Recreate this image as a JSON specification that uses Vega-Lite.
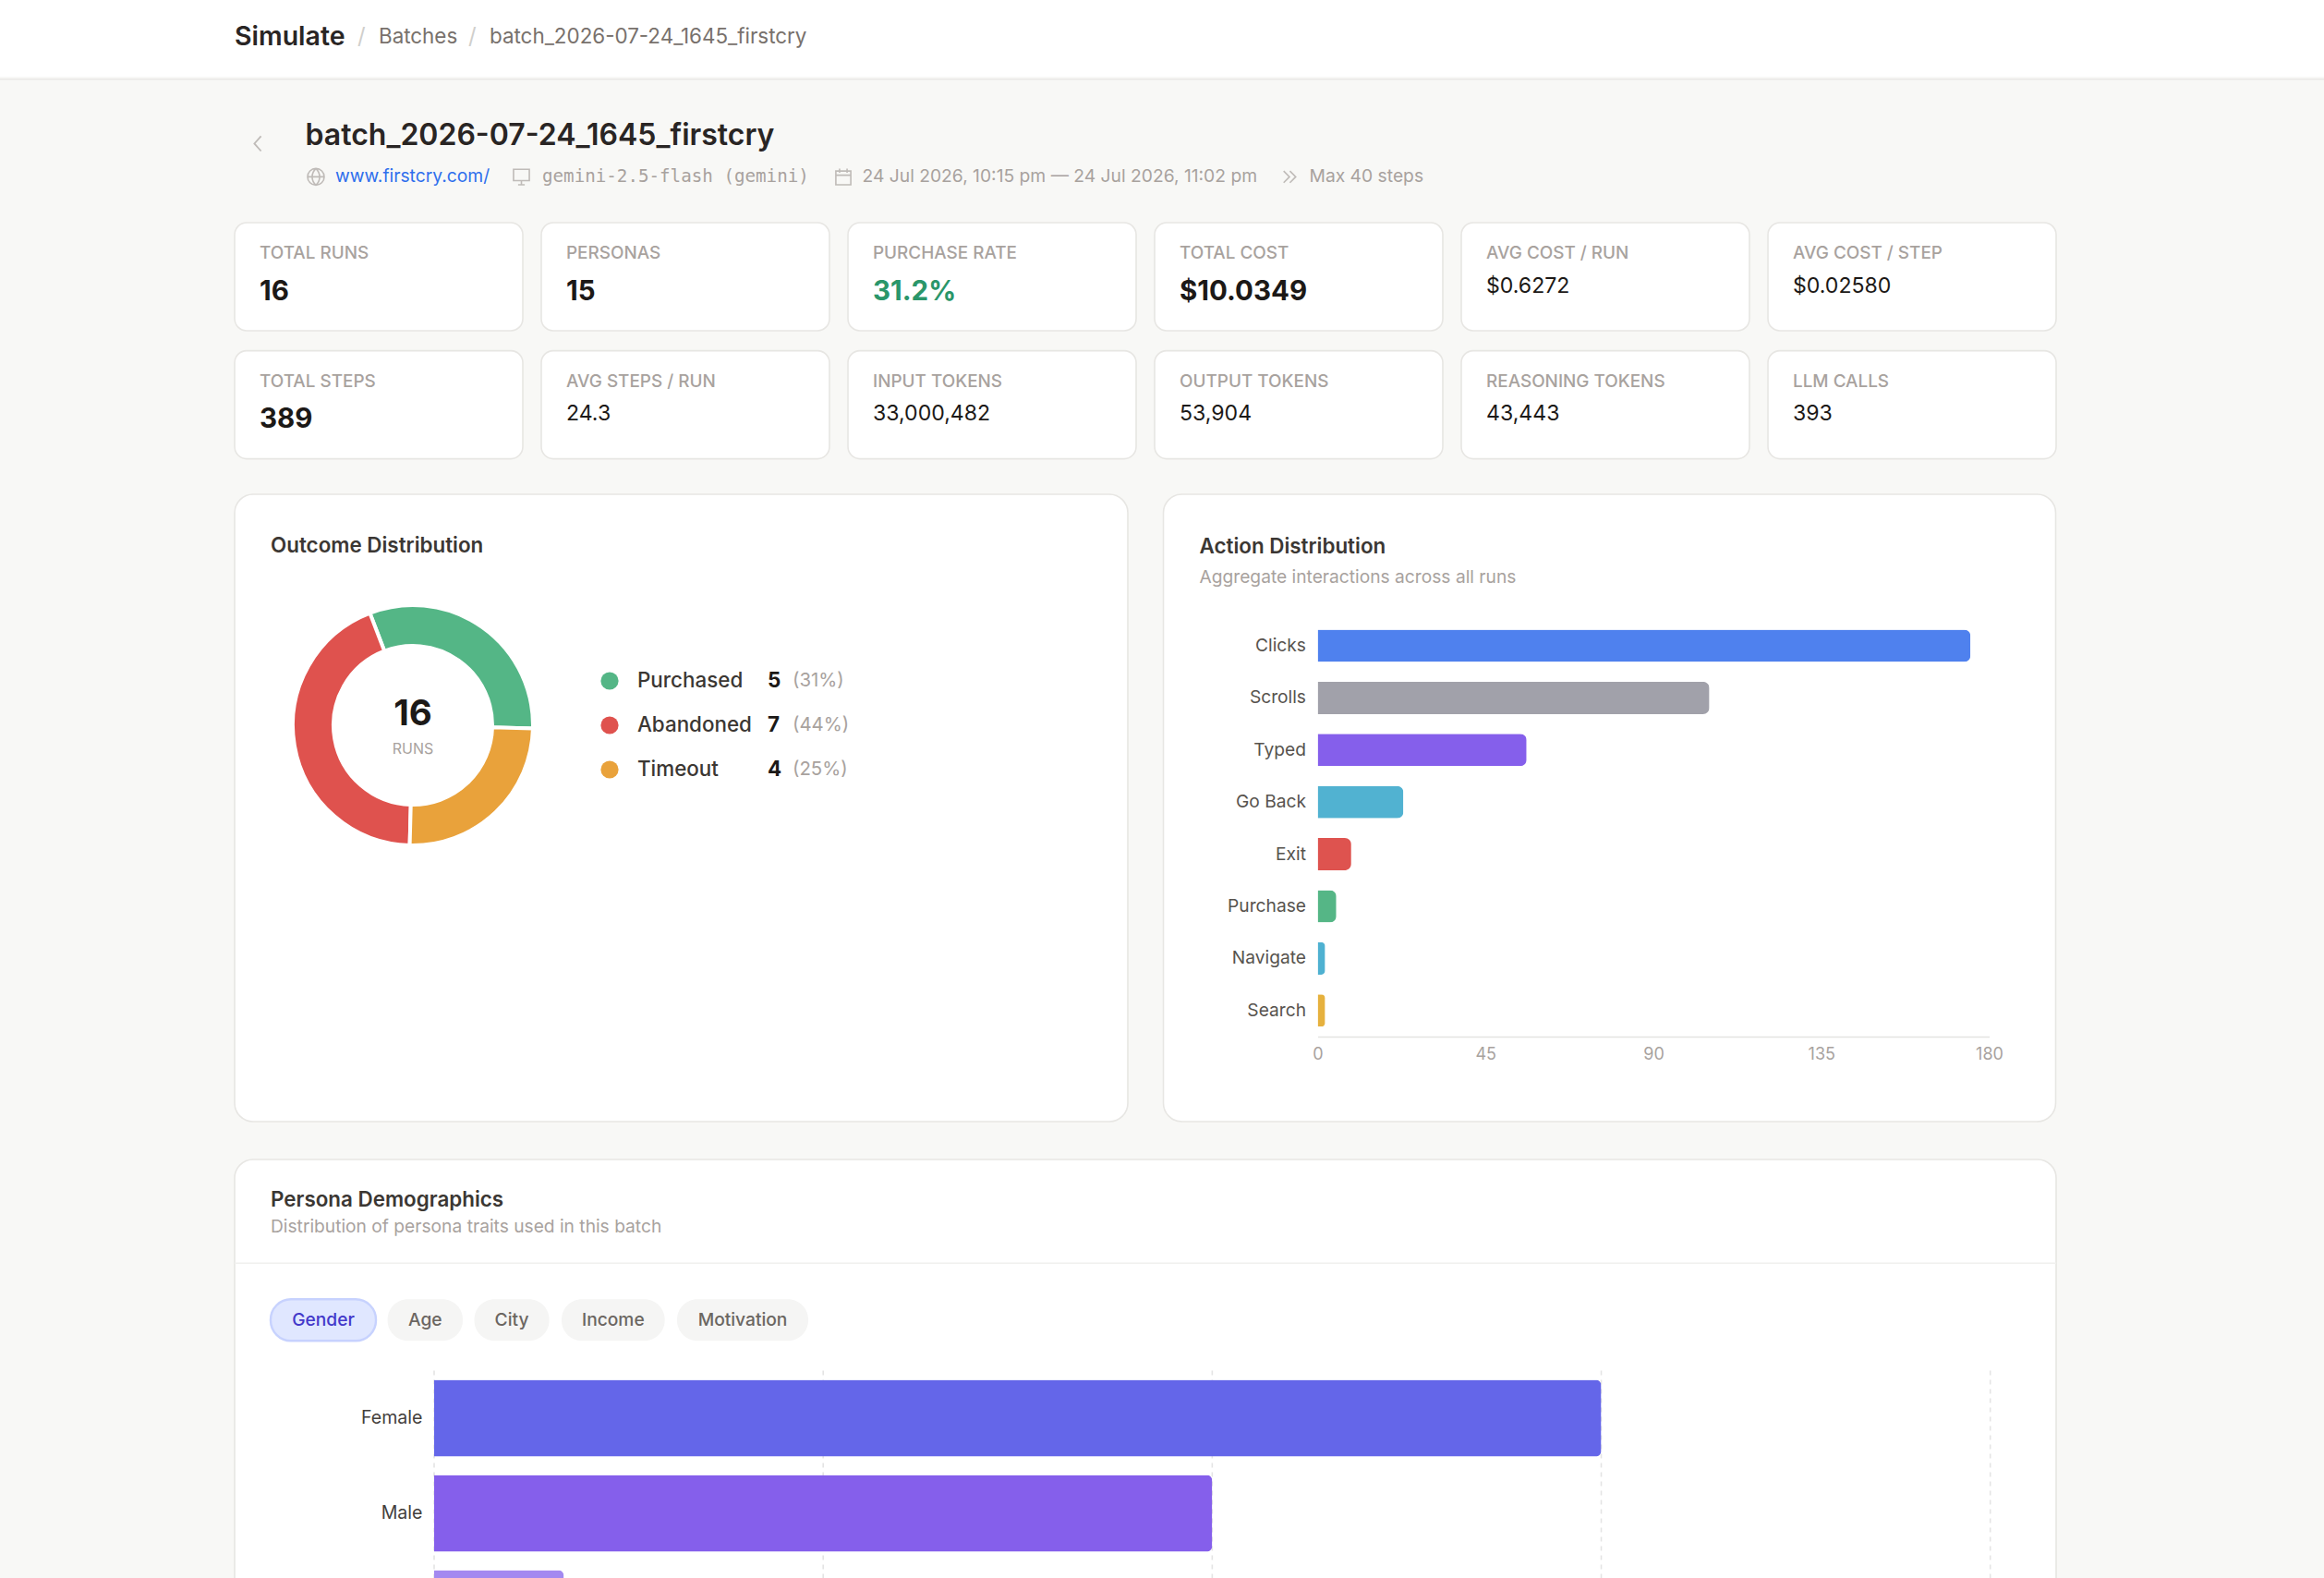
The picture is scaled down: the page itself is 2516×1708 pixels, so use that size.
{
  "$schema": "https://vega.github.io/schema/vega-lite/v6.json",
  "background": "#f8f8f6",
  "padding": 0,
  "config": {
    "font": "Inter",
    "view": {"stroke": null},
    "text": {"font": "Inter"},
    "title": {"font": "Inter", "subtitleFont": "Inter"},
    "axis": {"labelFont": "Inter"}
  },
  "spacing": 0,
  "resolve": {"scale": {"color": "independent", "fill": "independent", "stroke": "independent"}},
  "vconcat": [
    {
      "width": 2516,
      "height": 83,
      "view": {"fill": "#ffffff"},
      "data": {
        "values": [
          {"slot": 0, "crumb": "Simulate", "kind": "brand"},
          {"slot": 1, "crumb": "/", "kind": "sep"},
          {"slot": 2, "crumb": "Batches", "kind": "crumb"},
          {"slot": 3, "crumb": "/", "kind": "sep"},
          {"slot": 4, "crumb": "batch_2026-07-24_1645_firstcry", "kind": "crumb"}
        ]
      },
      "encoding": {
        "x": {"field": "slot", "type": "quantitative", "axis": null, "scale": {"domain": [0, 1, 2, 3, 4], "range": [254, 387, 410, 507, 530]}},
        "y": {"datum": 0, "type": "quantitative", "axis": null, "scale": {"domain": [0, 1], "range": [39.5, 40.5]}},
        "text": {"field": "crumb"}
      },
      "layer": [
        {"transform": [{"filter": "datum.kind === 'brand'"}], "mark": {"type": "text", "align": "left", "fontSize": 28.5, "fontWeight": 600, "color": "#292524"}},
        {"transform": [{"filter": "datum.kind === 'sep'"}], "mark": {"type": "text", "align": "left", "fontSize": 24, "color": "#d0cfcc"}},
        {"transform": [{"filter": "datum.kind === 'crumb'"}], "mark": {"type": "text", "align": "left", "fontSize": 22.4, "color": "#78716c"}}
      ]
    },
    {
      "width": 2516,
      "height": 1.6,
      "view": {"fill": "#e9e8e5"},
      "data": {"values": [{"part": "rule"}]},
      "mark": {"type": "point", "opacity": 0}
    },
    {
      "spacing": 0,
      "resolve": {"scale": {"color": "independent", "fill": "independent", "stroke": "independent"}},
      "hconcat": [
        {
          "width": 252,
          "height": 10,
          "data": {"values": [{"part": "gutter"}]},
          "mark": {"type": "point", "opacity": 0}
        },
        {
          "spacing": 39,
          "resolve": {"scale": {"color": "independent", "fill": "independent", "stroke": "independent"}},
          "vconcat": [
            {
              "spacing": 36,
              "resolve": {"scale": {"color": "independent", "fill": "independent", "stroke": "independent"}},
              "vconcat": [
                {
                  "width": 1972,
                  "height": 113.2,
                  "data": {
                    "values": [
                      {"slot": 1, "line": 0, "item": "batch_2026-07-24_1645_firstcry", "kind": "title"},
                      {"slot": 3, "line": 1, "item": "www.firstcry.com/", "kind": "link"},
                      {"slot": 5, "line": 1, "item": "gemini-2.5-flash (gemini)", "kind": "model"},
                      {"slot": 7, "line": 1, "item": "24 Jul 2026, 10:15 pm — 24 Jul 2026, 11:02 pm", "kind": "meta"},
                      {"slot": 9, "line": 1, "item": "Max 40 steps", "kind": "meta"},
                      {"slot": 0, "line": 3, "item": "back", "kind": "back"},
                      {"slot": 2, "line": 2, "item": "globe", "kind": "globe"},
                      {"slot": 4, "line": 2, "item": "monitor", "kind": "monitor"},
                      {"slot": 6, "line": 2, "item": "calendar", "kind": "calendar"},
                      {"slot": 8, "line": 2, "item": "steps", "kind": "steps"}
                    ]
                  },
                  "encoding": {
                    "x": {"field": "slot", "type": "quantitative", "axis": null, "scale": {"domain": [0, 1, 2, 3, 4, 5, 6, 7, 8, 9], "range": [25, 76.5, 88, 109, 310.5, 333, 659, 679.5, 1142, 1163.5]}},
                    "y": {"field": "line", "type": "quantitative", "axis": null, "scale": {"domain": [0, 1, 2, 3], "range": [67.9, 108.4, 102.4, 66.4]}}
                  },
                  "layer": [
                    {"transform": [{"filter": "datum.kind === 'title'"}], "mark": {"type": "text", "align": "left", "baseline": "alphabetic", "fontSize": 32, "fontWeight": 600, "color": "#292524"}, "encoding": {"text": {"field": "item"}}},
                    {"transform": [{"filter": "datum.kind === 'link'"}], "mark": {"type": "text", "align": "left", "baseline": "alphabetic", "fontSize": 19.25, "color": "#2f6fed"}, "encoding": {"text": {"field": "item"}}},
                    {"transform": [{"filter": "datum.kind === 'model'"}], "mark": {"type": "text", "align": "left", "baseline": "alphabetic", "font": "DejaVu Sans Mono", "fontSize": 19.2, "color": "#a8a29e"}, "encoding": {"text": {"field": "item"}}},
                    {"transform": [{"filter": "datum.kind === 'meta'"}], "mark": {"type": "text", "align": "left", "baseline": "alphabetic", "fontSize": 19.25, "color": "#a8a29e"}, "encoding": {"text": {"field": "item"}}},
                    {"transform": [{"filter": "datum.kind === 'back'"}], "mark": {"type": "point", "filled": false, "size": 324, "stroke": "#a8a29e", "strokeWidth": 1.8, "shape": "M0.4,-0.9L-0.4,0L0.4,0.9"}},
                    {"transform": [{"filter": "datum.kind === 'globe'"}], "mark": {"type": "point", "filled": false, "size": 324, "stroke": "#a8a29e", "strokeWidth": 1.6, "shape": "M-1,0A1,1 0 1,1 1,0A1,1 0 1,1 -1,0M-1,0L1,0M0,-1C-0.6,-0.4 -0.6,0.4 0,1M0,-1C0.6,-0.4 0.6,0.4 0,1"}},
                    {"transform": [{"filter": "datum.kind === 'monitor'"}], "mark": {"type": "point", "filled": false, "size": 324, "stroke": "#a8a29e", "strokeWidth": 1.6, "shape": "M-0.95,-0.9H0.95V0.45H-0.95ZM-0.4,0.95H0.4M0,0.45V0.95"}},
                    {"transform": [{"filter": "datum.kind === 'calendar'"}], "mark": {"type": "point", "filled": false, "size": 324, "stroke": "#a8a29e", "strokeWidth": 1.6, "shape": "M-0.9,-0.7H0.9V0.95H-0.9ZM-0.9,-0.2H0.9M-0.45,-1V-0.5M0.45,-1V-0.5"}},
                    {"transform": [{"filter": "datum.kind === 'steps'"}], "mark": {"type": "point", "filled": false, "size": 324, "stroke": "#a8a29e", "strokeWidth": 1.6, "shape": "M-0.7,-0.7L0,0L-0.7,0.7M0.05,-0.7L0.75,0L0.05,0.7"}}
                  ]
                },
                {
                  "data": {
                    "values": [
                      {"metric": "TOTAL RUNS", "value": "16", "tier": "hero", "band": 0, "col": 0},
                      {"metric": "PERSONAS", "value": "15", "tier": "hero", "band": 0, "col": 1},
                      {"metric": "PURCHASE RATE", "value": "31.2%", "tier": "accent", "band": 0, "col": 2},
                      {"metric": "TOTAL COST", "value": "$10.0349", "tier": "hero", "band": 0, "col": 3},
                      {"metric": "AVG COST / RUN", "value": "$0.6272", "tier": "plain", "band": 0, "col": 4},
                      {"metric": "AVG COST / STEP", "value": "$0.02580", "tier": "plain", "band": 0, "col": 5},
                      {"metric": "TOTAL STEPS", "value": "389", "tier": "hero", "band": 1, "col": 0},
                      {"metric": "AVG STEPS / RUN", "value": "24.3", "tier": "plain", "band": 1, "col": 1},
                      {"metric": "INPUT TOKENS", "value": "33,000,482", "tier": "plain", "band": 1, "col": 2},
                      {"metric": "OUTPUT TOKENS", "value": "53,904", "tier": "plain", "band": 1, "col": 3},
                      {"metric": "REASONING TOKENS", "value": "43,443", "tier": "plain", "band": 1, "col": 4},
                      {"metric": "LLM CALLS", "value": "393", "tier": "plain", "band": 1, "col": 5}
                    ]
                  },
                  "facet": {
                    "row": {"field": "band", "type": "ordinal", "header": null},
                    "column": {"field": "col", "type": "ordinal", "header": null}
                  },
                  "bounds": "flush",
                  "spacing": {"row": 21.6, "column": 20},
                  "spec": {
                    "width": 312,
                    "height": 117,
                    "view": {"fill": "#ffffff", "stroke": "#e7e6e3", "strokeWidth": 1.6, "cornerRadius": 13},
                    "encoding": {
                      "x": {"datum": 0, "type": "quantitative", "axis": null, "scale": {"domain": [0, 1], "range": [27, 28]}}
                    },
                    "layer": [
                      {
                        "mark": {"type": "text", "align": "left", "baseline": "middle", "fontSize": 18.9, "fontWeight": 500, "color": "#a8a29e"},
                        "encoding": {
                          "y": {"datum": 0, "type": "quantitative", "axis": null, "scale": {"domain": [0, 1, 2], "range": [33, 74.5, 68.5]}},
                          "text": {"field": "metric"}
                        }
                      },
                      {
                        "transform": [{"filter": "datum.tier !== 'plain'"}],
                        "mark": {"type": "text", "align": "left", "baseline": "middle", "fontSize": 29.5, "fontWeight": 700},
                        "encoding": {
                          "y": {"datum": 1, "type": "quantitative", "axis": null, "scale": {"domain": [0, 1, 2], "range": [33, 74.5, 68.5]}},
                          "text": {"field": "value"},
                          "color": {"field": "tier", "type": "nominal", "legend": null, "scale": {"domain": ["hero", "accent", "plain"], "range": ["#1c1917", "#2a966a", "#1c1917"]}}
                        }
                      },
                      {
                        "transform": [{"filter": "datum.tier === 'plain'"}],
                        "mark": {"type": "text", "align": "left", "baseline": "middle", "fontSize": 23.1, "color": "#1c1917"},
                        "encoding": {
                          "y": {"datum": 2, "type": "quantitative", "axis": null, "scale": {"domain": [0, 1, 2], "range": [33, 74.5, 68.5]}},
                          "text": {"field": "value"}
                        }
                      }
                    ]
                  }
                },
                {
                  "spacing": 36.5,
                  "resolve": {"scale": {"color": "independent"}},
                  "hconcat": [
                    {
                      "width": 967,
                      "height": 679,
                      "view": {"fill": "#ffffff", "stroke": "#e7e6e3", "strokeWidth": 1.6, "cornerRadius": 20},
                      "title": {"text": "Outcome Distribution", "anchor": "start", "frame": "group", "dx": 39, "dy": 71, "fontSize": 22.4, "fontWeight": 600, "color": "#3b3733"},
                      "data": {
                        "values": [
                          {"outcome": "Purchased", "runs": 5, "share": "(31%)", "ring": 0},
                          {"outcome": "Abandoned", "runs": 7, "share": "(44%)", "ring": 2},
                          {"outcome": "Timeout", "runs": 4, "share": "(25%)", "ring": 1}
                        ]
                      },
                      "resolve": {"scale": {"x": "independent", "y": "independent", "theta": "independent"}},
                      "layer": [
                        {
                          "mark": {"type": "arc", "radius": 130, "radius2": 86, "stroke": "#ffffff", "strokeWidth": 4},
                          "encoding": {
                            "x": {"datum": "centre", "type": "nominal", "axis": null, "scale": {"type": "point", "range": [193, 193]}},
                            "y": {"datum": "centre", "type": "nominal", "axis": null, "scale": {"type": "point", "range": [250, 250]}},
                            "theta": {"field": "runs", "type": "quantitative", "stack": true, "scale": {"range": [-0.3665, 5.9167]}},
                            "order": {"field": "ring"},
                            "color": {"field": "outcome", "type": "nominal", "legend": null, "scale": {"domain": ["Purchased", "Abandoned", "Timeout"], "range": ["#54b686", "#df524e", "#e9a23b"]}}
                          }
                        },
                        {
                          "data": {"values": [{"total": "16", "row": 0}]},
                          "mark": {"type": "text", "align": "center", "baseline": "middle", "fontSize": 38.5, "fontWeight": 700, "color": "#1c1917"},
                          "encoding": {
                            "x": {"datum": 0, "type": "quantitative", "axis": null, "scale": {"domain": [0, 1], "range": [193, 194]}},
                            "y": {"field": "row", "type": "quantitative", "axis": null, "scale": {"domain": [0, 1], "range": [238, 276]}},
                            "text": {"field": "total"}
                          }
                        },
                        {
                          "data": {"values": [{"unit": "RUNS", "row": 1}]},
                          "mark": {"type": "text", "align": "center", "baseline": "middle", "fontSize": 16, "color": "#a8a29e"},
                          "encoding": {
                            "x": {"datum": 0, "type": "quantitative", "axis": null, "scale": {"domain": [0, 1], "range": [193, 194]}},
                            "y": {"field": "row", "type": "quantitative", "axis": null, "scale": {"domain": [0, 1], "range": [238, 276]}},
                            "text": {"field": "unit"}
                          }
                        },
                        {
                          "mark": {"type": "point", "filled": true, "size": 369, "opacity": 1},
                          "encoding": {
                            "x": {"datum": 0, "type": "quantitative", "axis": null, "scale": {"domain": [0, 1, 2, 3], "range": [406, 436, 577, 604]}},
                            "y": {"field": "outcome", "type": "nominal", "sort": null, "axis": null, "scale": {"type": "point", "padding": 0, "domain": ["Purchased", "Abandoned", "Timeout"], "range": [202, 298]}},
                            "color": {"field": "outcome", "type": "nominal", "legend": null, "scale": {"domain": ["Purchased", "Abandoned", "Timeout"], "range": ["#54b686", "#df524e", "#e9a23b"]}}
                          }
                        },
                        {
                          "mark": {"type": "text", "align": "left", "baseline": "middle", "fontSize": 22.4, "fontWeight": 500, "color": "#3b3733"},
                          "encoding": {
                            "x": {"datum": 1, "type": "quantitative", "axis": null, "scale": {"domain": [0, 1, 2, 3], "range": [406, 436, 577, 604]}},
                            "y": {"field": "outcome", "type": "nominal", "sort": null, "axis": null, "scale": {"type": "point", "padding": 0, "domain": ["Purchased", "Abandoned", "Timeout"], "range": [202, 298]}},
                            "text": {"field": "outcome"}
                          }
                        },
                        {
                          "mark": {"type": "text", "align": "left", "baseline": "middle", "fontSize": 22.4, "fontWeight": 700, "color": "#1c1917"},
                          "encoding": {
                            "x": {"datum": 2, "type": "quantitative", "axis": null, "scale": {"domain": [0, 1, 2, 3], "range": [406, 436, 577, 604]}},
                            "y": {"field": "outcome", "type": "nominal", "sort": null, "axis": null, "scale": {"type": "point", "padding": 0, "domain": ["Purchased", "Abandoned", "Timeout"], "range": [202, 298]}},
                            "text": {"field": "runs"}
                          }
                        },
                        {
                          "mark": {"type": "text", "align": "left", "baseline": "middle", "fontSize": 20.4, "color": "#a8a29e"},
                          "encoding": {
                            "x": {"datum": 3, "type": "quantitative", "axis": null, "scale": {"domain": [0, 1, 2, 3], "range": [406, 436, 577, 604]}},
                            "y": {"field": "outcome", "type": "nominal", "sort": null, "axis": null, "scale": {"type": "point", "padding": 0, "domain": ["Purchased", "Abandoned", "Timeout"], "range": [202, 298]}},
                            "text": {"field": "share"}
                          }
                        }
                      ]
                    },
                    {
                      "width": 966,
                      "height": 679,
                      "view": {"fill": "#ffffff", "stroke": "#e7e6e3", "strokeWidth": 1.6, "cornerRadius": 20},
                      "title": {"text": "Action Distribution", "subtitle": "Aggregate interactions across all runs", "anchor": "start", "frame": "group", "dx": 39, "dy": 104.5, "fontSize": 22.4, "fontWeight": 600, "color": "#3b3733", "subtitleFontSize": 19.2, "subtitleColor": "#a8a29e", "subtitlePadding": 13},
                      "data": {
                        "values": [
                          {"action": "Clicks", "count": 175},
                          {"action": "Scrolls", "count": 105},
                          {"action": "Typed", "count": 56},
                          {"action": "Go Back", "count": 23},
                          {"action": "Exit", "count": 9},
                          {"action": "Purchase", "count": 5},
                          {"action": "Navigate", "count": 2},
                          {"action": "Search", "count": 2}
                        ]
                      },
                      "mark": {"type": "bar", "cornerRadiusEnd": 7},
                      "encoding": {
                        "x": {
                          "field": "count",
                          "type": "quantitative",
                          "title": null,
                          "scale": {"domain": [0, 180], "range": [167, 894]},
                          "axis": {"values": [0, 45, 90, 135, 180], "grid": false, "ticks": false, "offset": -92, "domainColor": "#e4e4e2", "domainWidth": 1.6, "labelColor": "#a8a29e", "labelFontSize": 18, "labelPadding": 10, "labelFlush": false}
                        },
                        "y": {
                          "field": "action",
                          "type": "nominal",
                          "sort": null,
                          "title": null,
                          "scale": {"range": [135.8, 587], "paddingInner": 0.38, "paddingOuter": 0.19},
                          "axis": {"domain": false, "ticks": false, "offset": -167, "labelColor": "#57534e", "labelFontSize": 19.2, "labelPadding": 13}
                        },
                        "color": {
                          "field": "action",
                          "type": "nominal",
                          "legend": null,
                          "sort": null,
                          "scale": {"range": ["#4f81ee", "#a1a1aa", "#855feb", "#51b2d1", "#de534f", "#55b686", "#4fb1d1", "#e6b13e"]}
                        }
                      }
                    }
                  ]
                }
              ]
            },
            {
              "width": 1972,
              "height": 520,
              "view": {"fill": "#ffffff", "stroke": "#e7e6e3", "strokeWidth": 1.6, "cornerRadius": 20},
              "title": {"text": "Persona Demographics", "subtitle": "Distribution of persona traits used in this batch", "anchor": "start", "frame": "group", "dx": 39, "dy": 87, "fontSize": 22.4, "fontWeight": 600, "color": "#3b3733", "subtitleFontSize": 19.2, "subtitleColor": "#a8a29e", "subtitlePadding": 8},
              "resolve": {"scale": {"x": "independent", "y": "independent", "color": "independent"}},
              "layer": [
                {
                  "data": {"values": [{"divider": "header"}]},
                  "mark": {"type": "rule", "stroke": "#f0f0ee", "strokeWidth": 1.6},
                  "encoding": {
                    "y": {"datum": 0, "type": "quantitative", "axis": null, "scale": {"domain": [0, 1], "range": [112.3, 113.3]}}
                  }
                },
                {
                  "data": {
                    "values": [
                      {"tab": "Gender", "from": 0, "mid": 0.5, "to": 1, "state": "active"},
                      {"tab": "Age", "from": 2, "mid": 2.5, "to": 3, "state": "idle"},
                      {"tab": "City", "from": 4, "mid": 4.5, "to": 5, "state": "idle"},
                      {"tab": "Income", "from": 6, "mid": 6.5, "to": 7, "state": "idle"},
                      {"tab": "Motivation", "from": 8, "mid": 8.5, "to": 9, "state": "idle"}
                    ]
                  },
                  "mark": {"type": "rect", "cornerRadius": 22},
                  "encoding": {
                    "x": {"field": "from", "type": "quantitative", "axis": null, "scale": {"domain": [0, 1, 2, 3, 4, 5, 6, 7, 8, 9], "range": [39, 153, 165.6, 247, 259.5, 340.6, 354, 465.6, 479, 621]}},
                    "x2": {"field": "to"},
                    "y": {"datum": 0, "type": "quantitative", "axis": null, "scale": {"domain": [0, 1], "range": [151.3, 196.3]}},
                    "y2": {"datum": 1},
                    "fill": {"field": "state", "type": "nominal", "legend": null, "scale": {"domain": ["active", "idle"], "range": ["#e0e7ff", "#f5f5f4"]}},
                    "stroke": {"field": "state", "type": "nominal", "legend": null, "scale": {"domain": ["active", "idle"], "range": ["#c7d2fe", "#f5f5f4"]}},
                    "strokeWidth": {"condition": {"test": "datum.state === 'active'", "value": 2.4}, "value": 0}
                  }
                },
                {
                  "data": {
                    "values": [
                      {"tab": "Gender", "mid": 0.5, "state": "active"},
                      {"tab": "Age", "mid": 2.5, "state": "idle"},
                      {"tab": "City", "mid": 4.5, "state": "idle"},
                      {"tab": "Income", "mid": 6.5, "state": "idle"},
                      {"tab": "Motivation", "mid": 8.5, "state": "idle"}
                    ]
                  },
                  "mark": {"type": "text", "align": "center", "baseline": "middle", "fontSize": 19.2, "fontWeight": 500},
                  "encoding": {
                    "x": {"field": "mid", "type": "quantitative", "axis": null, "scale": {"domain": [0, 1, 2, 3, 4, 5, 6, 7, 8, 9], "range": [39, 153, 165.6, 247, 259.5, 340.6, 354, 465.6, 479, 621]}},
                    "y": {"datum": 0, "type": "quantitative", "axis": null, "scale": {"domain": [0, 1], "range": [173.5, 174.5]}},
                    "text": {"field": "tab"},
                    "color": {"field": "state", "type": "nominal", "legend": null, "scale": {"domain": ["active", "idle"], "range": ["#4338ca", "#6b6661"]}}
                  }
                },
                {
                  "data": {"values": [{"tick": 0}, {"tick": 3}, {"tick": 6}, {"tick": 9}, {"tick": 12}]},
                  "mark": {"type": "rule", "stroke": "#e4e4e4", "strokeWidth": 1.6, "strokeDash": [5, 5]},
                  "encoding": {
                    "x": {"field": "tick", "type": "quantitative", "axis": null, "scale": {"domain": [0, 12], "range": [216, 1900.7]}},
                    "y": {"datum": 0, "type": "quantitative", "axis": null, "scale": {"domain": [0, 1], "range": [228.6, 520]}},
                    "y2": {"datum": 1}
                  }
                },
                {
                  "data": {
                    "values": [
                      {"trait": "Female", "personas": 9},
                      {"trait": "Male", "personas": 6},
                      {"trait": "Other", "personas": 1}
                    ]
                  },
                  "mark": {"type": "bar", "cornerRadiusEnd": 6},
                  "encoding": {
                    "x": {"field": "personas", "type": "quantitative", "axis": null, "scale": {"domain": [0, 12], "range": [216, 1900.7]}},
                    "y": {
                      "field": "trait",
                      "type": "nominal",
                      "sort": null,
                      "title": null,
                      "scale": {"range": [228.6, 537.6], "paddingInner": 0.194, "paddingOuter": 0.097},
                      "axis": {"domain": false, "ticks": false, "offset": -216, "labelColor": "#44403c", "labelFontSize": 19.6, "labelPadding": 13}
                    },
                    "color": {"field": "trait", "type": "nominal", "legend": null, "sort": null, "scale": {"range": ["#6466e9", "#855feb", "#a389f0"]}}
                  }
                }
              ]
            }
          ]
        }
      ]
    }
  ]
}
